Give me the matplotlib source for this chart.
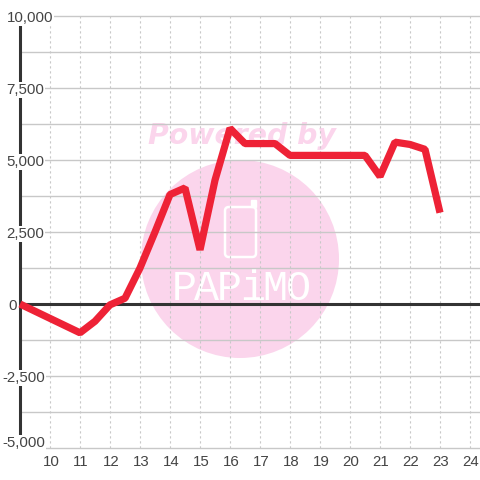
import matplotlib
matplotlib.use('Agg')
import matplotlib.pyplot as plt
from matplotlib.patches import Circle, FancyBboxPatch, Rectangle
from matplotlib.transforms import ScaledTranslation

hours = [9, 9.5, 10, 10.5, 11, 11.5, 12, 12.5, 13, 13.5, 14, 14.5, 15, 15.5, 16, 16.5,
         17, 17.5, 18, 18.5, 19, 19.5, 20, 20.5, 21, 21.5, 22, 22.5, 23]
values = [0, -250, -500, -750, -1000, -600, -30, 200, 1250, 2500, 3800, 4030, 1880, 4300, 6100, 5570,
          5570, 5570, 5160, 5160, 5160, 5160, 5160, 5160, 4430, 5620, 5540, 5370, 3170]
x_ticks = list(range(10, 25))
y_major = [-5000, -2500, 0, 2500, 5000, 7500, 10000]
y_minor = [-3750, -1250, 1250, 3750, 6250, 8750]
y_labels = ['-5,000', '-2,500', '0', '2,500', '5,000', '7,500', '10,000']

plt.rcParams['font.family'] = ['Liberation Sans', 'DejaVu Sans']
PINK = '#fbd5ec'
TEXT = '#444444'
DARK = '#333333'

fig = plt.figure(figsize=(4.8, 4.8), dpi=100)
fig.patch.set_facecolor('white')
ax = fig.add_axes([20 / 480, 32 / 480, 460 / 480, 432 / 480])
ax.patch.set_alpha(0)
ax.set_xlim(9, 9 + 460 / 30)
ax.set_ylim(-5000, 10000)


def fx(px):
    return px / 480


def fy(px):
    return 1 - px / 480


# watermark sits under the axes
fig.add_artist(Circle((fx(240), fy(259)), 99 / 480, transform=fig.transFigure, color=PINK, lw=0, zorder=-3))
fig.text(fx(242), fy(135.5), 'Powered by', color=PINK, fontsize=20.4, family='DejaVu Sans',
         weight='bold', style='italic', ha='center', va='center', zorder=-2)
fig.add_artist(FancyBboxPatch((fx(225), fy(257)), 31 / 480, 50 / 480, boxstyle='round,pad=0,rounding_size=0.008',
                              transform=fig.transFigure, fc='none', ec='white', lw=1.8, zorder=-2))
fig.add_artist(Rectangle((fx(251), fy(207)), 5 / 480, 7 / 480, transform=fig.transFigure,
                         fc='white', ec='white', lw=1, zorder=-2))
for i, letter in enumerate('PAPiMO'):
    fig.text(fx(184 + i * 22.8), fy(289), letter, color='white', fontsize=30, family='Liberation Mono',
             ha='center', va='center', zorder=-2)

ax.set_xticks(x_ticks)
ax.set_yticks(y_major)
ax.set_yticks(y_minor, minor=True)
ax.set_yticklabels([])
ax.grid(axis='x', color='#c8c8c8', linestyle=(0, (2, 2.5)), linewidth=0.8)
ax.grid(axis='y', which='both', color='#c8c8c8', linestyle='-', linewidth=1)
ax.set_axisbelow(True)
for line in ax.get_ygridlines():
    line.set_clip_on(False)
ax.tick_params(axis='both', which='both', length=0)
ax.tick_params(axis='x', labelsize=10.8, labelcolor=TEXT, pad=5.2)
nudge = ScaledTranslation(1 / 100, 0, fig.dpi_scale_trans)
for label in ax.get_xticklabels():
    label.set_transform(label.get_transform() + nudge)
for side in ['top', 'right', 'bottom']:
    ax.spines[side].set_visible(False)
ax.spines['left'].set_color(DARK)
ax.spines['left'].set_linewidth(2.2)
ax.spines['left'].set_zorder(2)

ax.axhline(0, color=DARK, linewidth=2.2, zorder=3)
ax.plot(hours, values, color='#ee2236', linewidth=5.2, solid_joinstyle='bevel', solid_capstyle='butt',
        clip_on=False, zorder=4)

for value, label in zip(y_major, y_labels):
    dx = 2.5 if value < 0 else (8 if value == 0 else 6.5)
    va = 'bottom' if value == -5000 else 'center'
    ax.annotate(label, (9, value), xytext=(dx - 20, -2), textcoords='offset pixels', ha='left', va=va,
                fontsize=10.8, color=TEXT, annotation_clip=False, zorder=5,
                bbox=dict(fc='white', ec='none', pad=0.5) if value != 0 else None)

fig.savefig('out.png', dpi=100)
